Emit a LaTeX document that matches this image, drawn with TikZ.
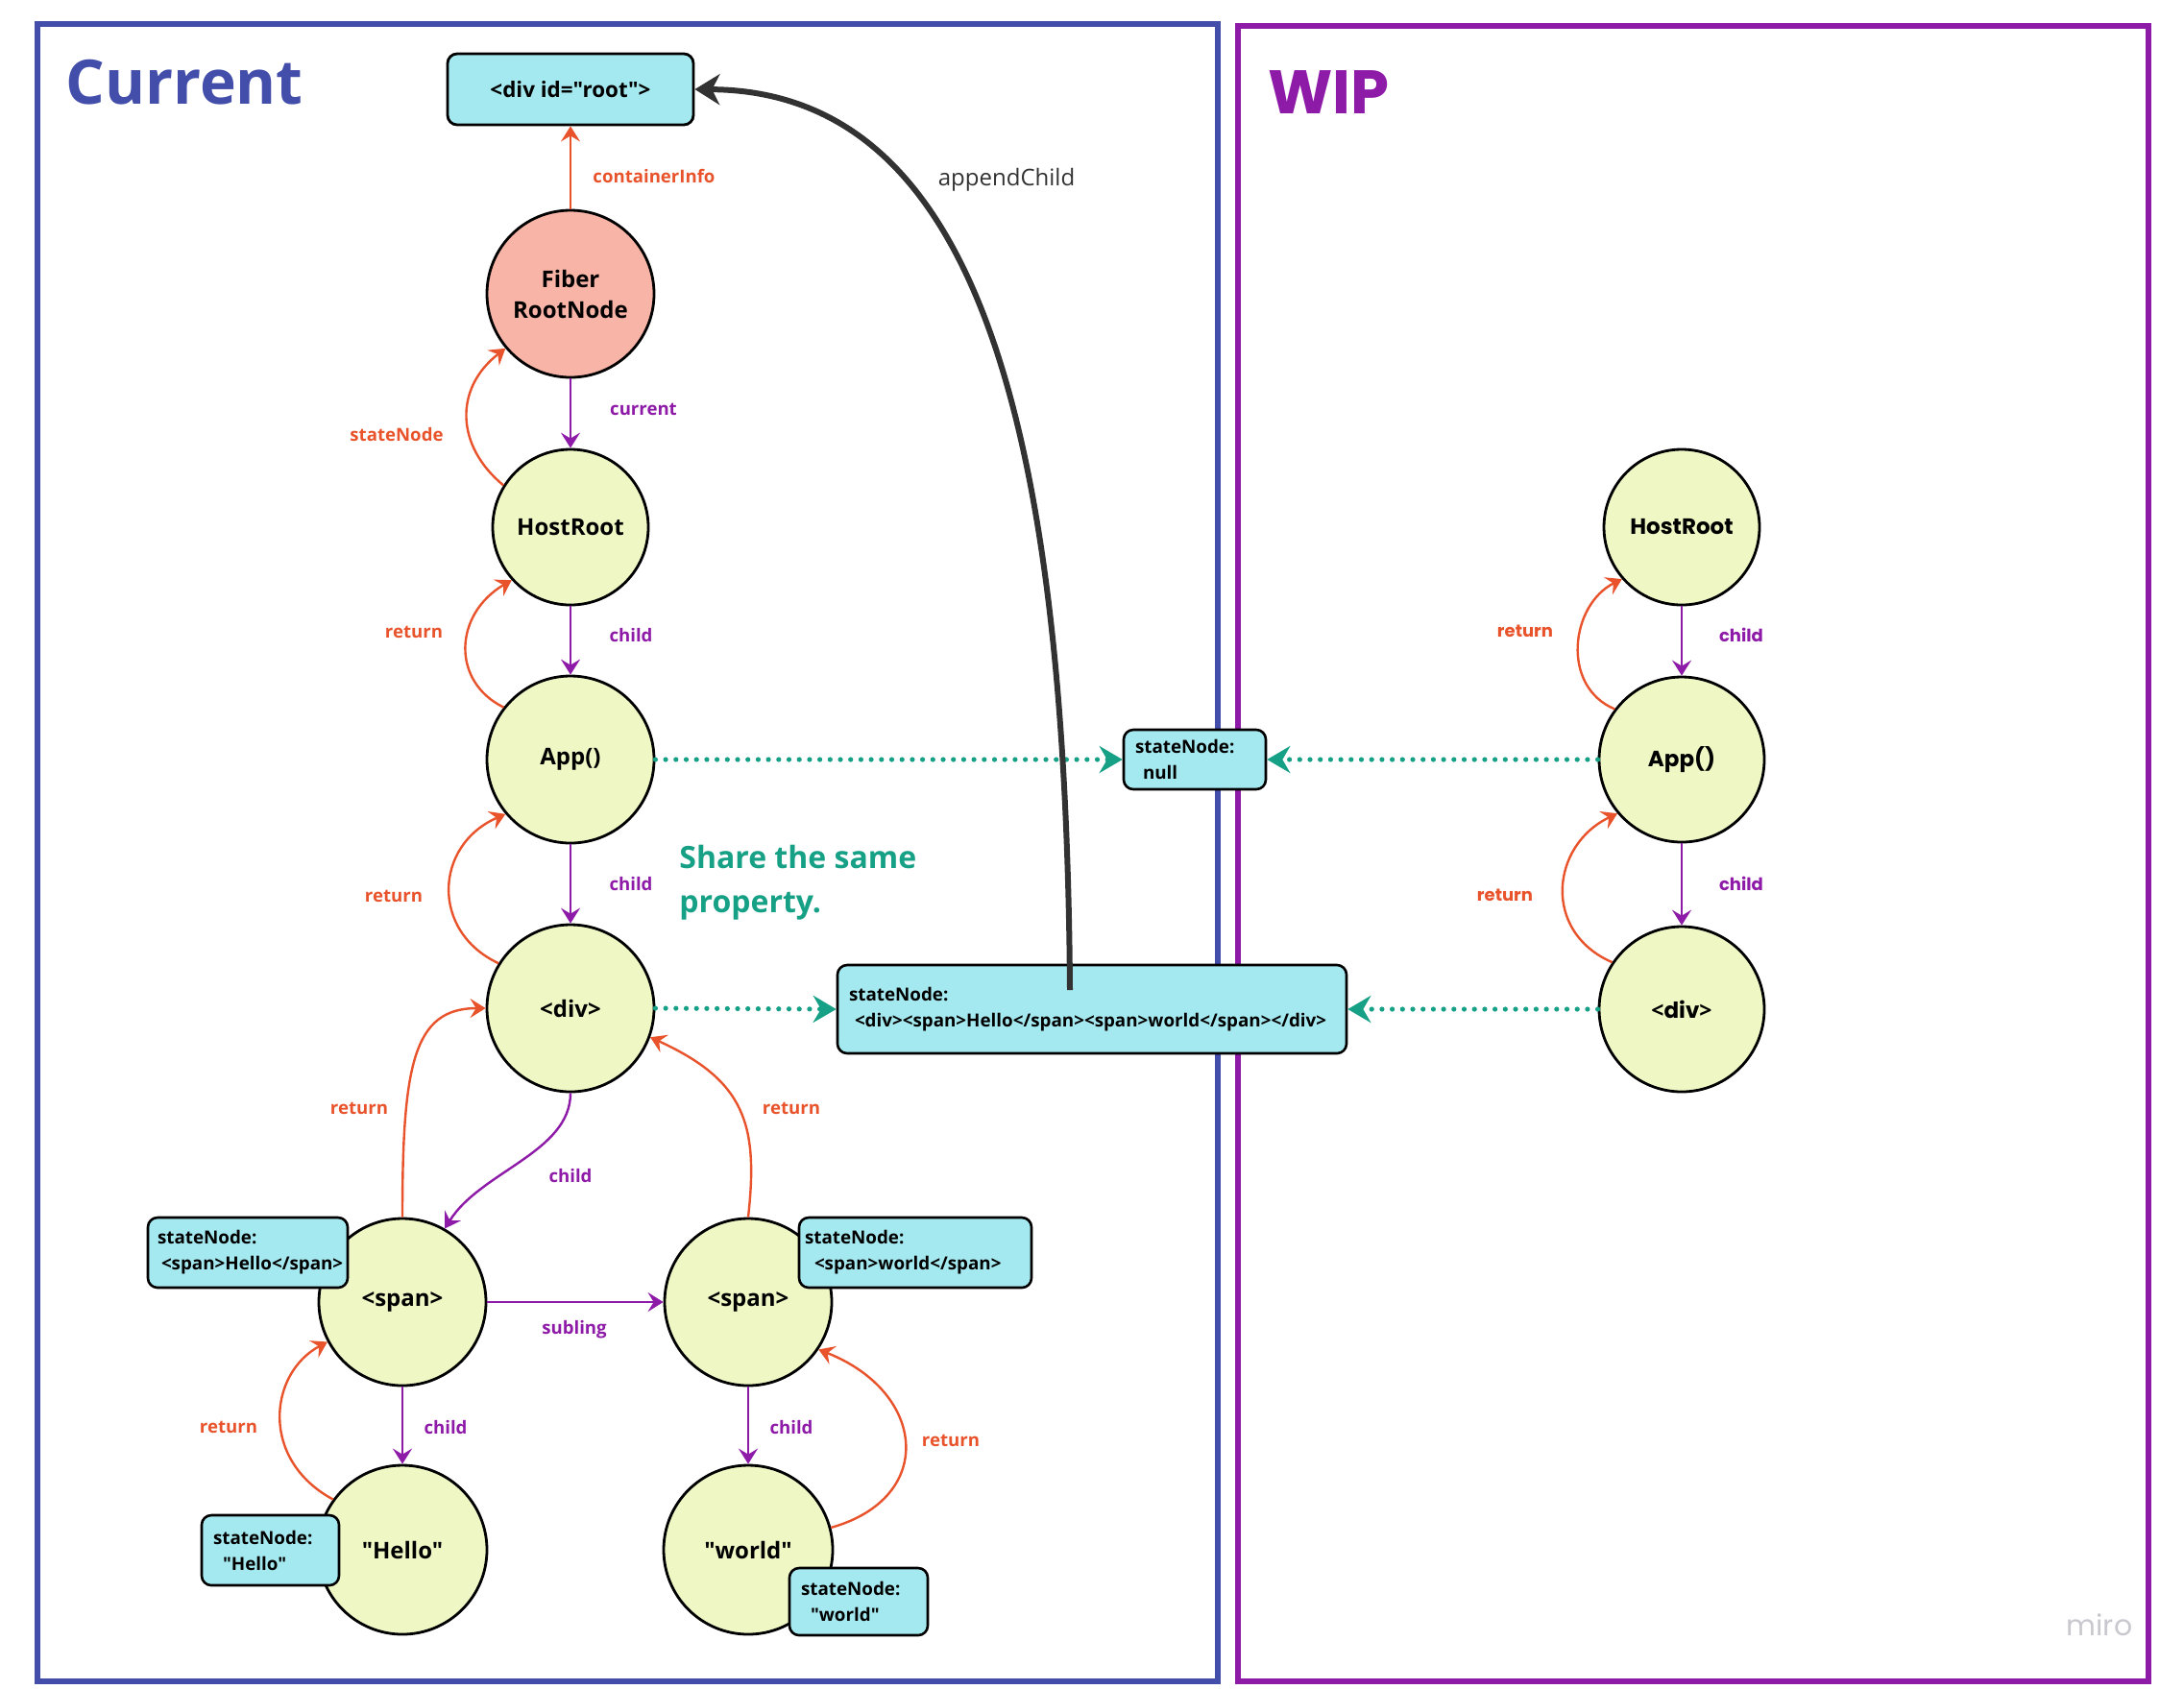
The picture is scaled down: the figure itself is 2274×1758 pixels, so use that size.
\documentclass[tikz,border=0pt]{standalone}
\usepackage{fontspec}
\setmainfont{Open Sans}[Ligatures=TeXOff]
\newfontfamily\wipfont{Poppins}[Ligatures=TeXOff]
\usetikzlibrary{arrows.meta}
\newcommand\dq{\symbol{34}}
\definecolor{cblue}{RGB}{67,78,170}
\definecolor{cpurple}{RGB}{142,26,168}
\definecolor{corange}{RGB}{232,83,43}
\definecolor{cteal}{RGB}{22,160,133}
\definecolor{cyel}{RGB}{239,247,196}
\definecolor{csalmon}{RGB}{248,180,166}
\definecolor{ccyan}{RGB}{165,233,240}
\definecolor{cdark}{RGB}{50,50,50}
\definecolor{cmiro}{RGB}{200,200,206}
\begin{document}
\begin{tikzpicture}[x=0.5pt,y=-0.5pt,
  fibnode/.style={circle, draw=black, line width=1.4pt, fill=cyel, minimum size=87pt, inner sep=0pt, font=\fontsize{12}{16}\selectfont\bfseries},
  wipnode/.style={fibnode, font=\wipfont\fontsize{11.5}{14}\selectfont\bfseries},
  sbox/.style={draw=black, line width=1.3pt, rounded corners=5pt, fill=ccyan, align=left, inner xsep=6pt, inner ysep=0pt, font=\fontsize{9.4}{13.5}\selectfont\bfseries},
  rootbox/.style={draw=black, line width=1.4pt, rounded corners=5pt, fill=ccyan, minimum width=128pt, minimum height=37pt, inner sep=0pt, font=\fontsize{11.2}{13}\selectfont\bfseries},
  lblP/.style={text=cpurple, inner sep=0pt, font=\fontsize{9.3}{11}\selectfont\bfseries},
  lblO/.style={text=corange, inner sep=0pt, font=\fontsize{9.3}{11}\selectfont\bfseries},
  wlblP/.style={lblP, font=\wipfont\fontsize{9}{11}\selectfont\bfseries},
  wlblO/.style={lblO, font=\wipfont\fontsize{9}{11}\selectfont\bfseries},
  childarrow/.style={draw=cpurple, line width=1.2pt, -{Stealth[length=8pt,width=10pt,inset=3pt]}},
  retarrow/.style={draw=corange, line width=1.2pt, -{Stealth[length=8pt,width=10pt,inset=3pt]}},
  sharearrow/.style={draw=cteal, line width=2.6pt, line cap=round, dash pattern=on 0pt off 5.35pt, -{Stealth[length=12pt,width=14pt,inset=4pt]}},
  appendarrow/.style={draw=cdark, line width=3pt, -{Stealth[length=13pt,width=16pt,inset=4pt]}}
]
\useasboundingbox (0,0) rectangle (2274,1758);
% frames
\draw[cblue, line width=3pt] (39,25) rectangle (1268,1751);
\draw[cpurple, line width=3pt] (1289,27) rectangle (2237,1751);
% titles
\node[anchor=base west, inner sep=0pt, text=cblue, font=\fontsize{32}{36}\selectfont\bfseries] (tcur) at (68,108) {Current};
\node[anchor=base west, inner sep=0pt, text=cpurple, font=\wipfont\fontsize{32}{36}\selectfont\bfseries] (twip) at (1320,118) {WIP};
\node[text=cmiro, inner sep=0pt, font=\wipfont\fontsize{15}{16}\selectfont] (miro) at (2186,1692) {miro};
% current tree
\node[rootbox] (root) at (594,93) {<div id=\dq root\dq>};
\node[fibnode, fill=csalmon, align=center] (fiber) at (594,306) {Fiber\\RootNode};
\node[fibnode, minimum size=81pt] (hr) at (594,549) {HostRoot};
\node[fibnode] (app) at (594,791) {App()};
\node[fibnode] (div) at (594,1050) {<div>};
\node[fibnode] (spanL) at (419,1356) {<span>};
\node[fibnode] (spanR) at (779,1356) {<span>};
\node[fibnode, minimum size=88pt] (hello) at (419,1614) {\dq Hello\dq};
\node[fibnode, minimum size=88pt] (world) at (779,1614) {\dq world\dq};
% WIP tree
\node[wipnode, minimum size=81pt] (whr) at (1751,549) {HostRoot};
\node[wipnode, minimum size=86pt] (wapp) at (1751,791) {App()};
\node[wipnode, minimum size=86pt] (wdiv) at (1751,1051) {{\rmfamily<}div{\rmfamily>}};
% state boxes
\node[sbox, text width=62pt, minimum height=31pt] (nullbox) at (1244,791) {stateNode:\\\mbox{\hspace{4pt}null}};
\node[sbox, text width=253pt, minimum height=46pt] (bigbox) at (1137,1051) {stateNode:\\\mbox{\hspace{3pt}<div><span>Hello</span><span>world</span></div>}};
\node[sbox, inner xsep=5pt, text width=94pt, minimum height=36.5pt] (sbL) at (258,1304.5) {stateNode:\\\mbox{\hspace{2pt}<span>Hello</span>}};
\node[sbox, inner xsep=3pt, text width=115pt, minimum height=36.5pt] (sbR) at (953,1304.5) {stateNode:\\\mbox{\hspace{5pt}<span>world</span>}};
\node[sbox, text width=59.5pt, minimum height=36.5pt] (sbHello) at (281.5,1614.5) {stateNode:\\\mbox{\hspace{5pt}\dq Hello\dq}};
\node[sbox, text width=60pt, minimum height=35pt] (sbWorld) at (894,1668) {stateNode:\\\mbox{\hspace{5pt}\dq world\dq}};
% labels
\node[lblO] (lci) at (681,183) {containerInfo};
\node[lblP] (lcur) at (670,426) {current};
\node[lblO] (lsn) at (413,453) {stateNode};
\node[lblP] (lc1) at (657,662) {child};
\node[lblO] (lr1) at (431,658) {return};
\node[lblP] (lc2) at (657,921) {child};
\node[lblO] (lr2) at (410,933) {return};
\node[lblO] (lr3) at (374,1154) {return};
\node[lblO] (lr4) at (824,1154) {return};
\node[lblP] (lc3) at (594,1224) {child};
\node[lblP] (lsub) at (598,1385) {subling};
\node[lblP] (lc4) at (464,1486) {child};
\node[lblP] (lc5) at (824,1486) {child};
\node[lblO] (lr5) at (238,1486) {return};
\node[lblO] (lr6) at (990,1500) {return};
\node[wlblP] (wlc1) at (1813,661) {child};
\node[wlblP] (wlc2) at (1813,920) {child};
\node[wlblO] (wlr1) at (1588,657) {return};
\node[wlblO] (wlr2) at (1567,932) {return};
\node[inner sep=0pt, text=cdark, font=\fontsize{12}{14}\selectfont] (lapp) at (1048,187) {appendChild};
\node[anchor=north west, align=left, inner sep=0pt, text=cteal, font=\fontsize{16}{23}\selectfont\bfseries] (share) at (707,880) {Share the same\\property.};
% connectors current
\draw[retarrow] (fiber) -- (root);
\draw[childarrow] (fiber) -- (hr);
\draw[childarrow] (hr) -- (app);
\draw[childarrow] (app) -- (div);
\draw[retarrow] (hr.148) .. controls (475,465) and (472,405) .. (fiber.220);
\draw[retarrow] (app.142) .. controls (470,710) and (472,640) .. (hr.222);
\draw[retarrow] (div.148) .. controls (448,970) and (452,880) .. (app.220);
\draw[childarrow] (div.south) .. controls (594,1200) and (500,1220) .. (spanL.60);
\draw[retarrow] (spanL.north) .. controls (419,1110) and (430,1050) .. (div.west);
\draw[retarrow] (spanR.north) .. controls (790,1170) and (775,1125) .. (div.-20);
\draw[childarrow] (spanL) -- (spanR);
\draw[childarrow] (spanL) -- (hello);
\draw[childarrow] (spanR) -- (world);
\draw[retarrow] (hello.144) .. controls (270,1520) and (280,1430) .. (spanL.208);
\draw[retarrow] (world.15) .. controls (975,1560) and (965,1450) .. (spanR.-34);
% connectors WIP
\draw[childarrow] (whr) -- (wapp);
\draw[childarrow] (wapp) -- (wdiv);
\draw[retarrow] (wapp.143) .. controls (1625,715) and (1635,630) .. (whr.221);
\draw[retarrow] (wdiv.146) .. controls (1605,970) and (1615,880) .. (wapp.220);
% shared
\draw[sharearrow] (app.east) -- (nullbox.west);
\draw[sharearrow] (wapp.west) -- (nullbox.east);
\draw[sharearrow] (div.east) -- (bigbox.west);
\draw[sharearrow] (wdiv.west) -- (bigbox.east);
% appendChild
\coordinate (acstart) at (1114,1031);
\draw[appendarrow] (acstart) .. controls (1110,450) and (1020,95) .. (root.east);
\end{tikzpicture}
\end{document}
